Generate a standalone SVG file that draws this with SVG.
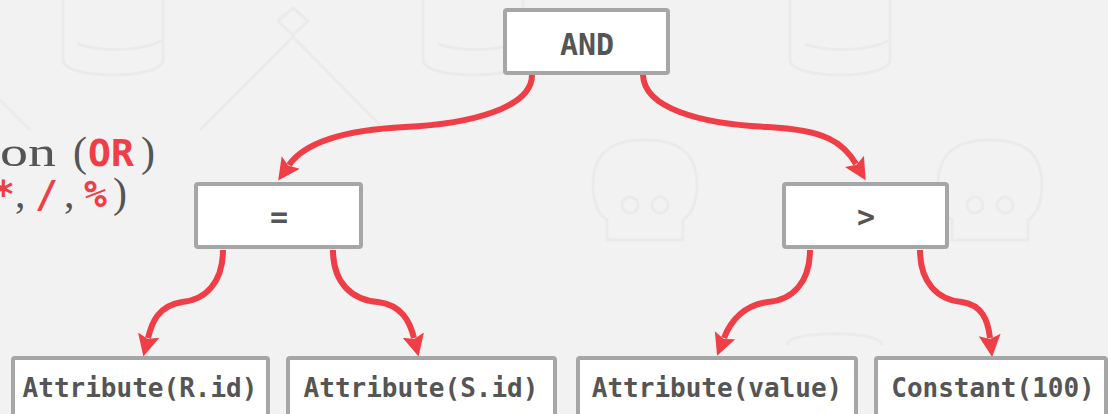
<svg xmlns="http://www.w3.org/2000/svg" width="1108" height="414" viewBox="0 0 1108 414">
  <defs>
    <style>
      .bg { fill: #f2f2f2; }
      .wm { fill: none; stroke: #ebebeb; stroke-width: 3; }
      .box { fill: #ffffff; stroke: #a6a6a6; stroke-width: 4; }
      .op { font-family: "DejaVu Sans Mono", "Liberation Mono", monospace; font-weight: bold; font-size: 30px; fill: #555555; text-anchor: middle; }
      .leaf { font-family: "DejaVu Sans Mono", "Liberation Mono", monospace; font-weight: bold; font-size: 26px; fill: #555555; text-anchor: middle; }
      .edge { fill: none; stroke: #ef3e45; stroke-width: 6; marker-end: url(#arrow); }
      .serif { font-family: "Liberation Serif", "DejaVu Serif", serif; font-size: 42px; fill: #555555; }
      .kw { font-family: "DejaVu Sans Mono", "Liberation Mono", monospace; font-weight: bold; font-size: 38px; fill: #ef3e45; }
    </style>
    <marker id="arrow" markerUnits="userSpaceOnUse" markerWidth="24" markerHeight="24" refX="3" refY="11" orient="auto">
      <path d="M0,0 L22,11 L0,22 L4,11 z" fill="#ef3e45"/>
    </marker>
  </defs>

  <rect class="bg" x="0" y="0" width="1108" height="414"/>

  <!-- faint background watermark -->
  <g id="watermark" class="wm">
    <path d="M63,0 V60 C63,80 163,80 163,60 V0"/>
    <path d="M78,44 C100,52 140,52 163,40"/>
    <path d="M423,0 V60 C423,80 523,80 523,60 V0"/>
    <path d="M438,44 C460,52 500,52 523,40"/>
    <path d="M0,100 L30,130"/>
    <path d="M200,130 L293,37 L380,125"/>
    <path d="M293,8 L308,21 L293,35 L278,21 z"/>
    <path d="M790,0 V60 C790,80 890,80 890,60 V0"/>
    <path d="M805,44 C827,52 867,52 890,40"/>
    <path d="M593,185 C593,150 615,140 645,140 C675,140 697,150 697,185 C697,205 690,215 683,220 V240 H607 V220 C600,215 593,205 593,185 z"/>
    <circle cx="630" cy="205" r="8"/>
    <circle cx="660" cy="205" r="8"/>
    <path d="M938,185 C938,150 960,140 990,140 C1020,140 1042,150 1042,185 C1042,205 1035,215 1028,220 V240 H952 V220 C945,215 938,205 938,185 z"/>
    <circle cx="975" cy="205" r="8"/>
    <circle cx="1005" cy="205" r="8"/>
    <path d="M787,345 C787,330 882,330 882,345"/>
  </g>

  <!-- partially visible slide text on the left -->
  <g id="bg-text">
    <text class="serif" x="0" y="166" textLength="56" lengthAdjust="spacingAndGlyphs">on</text>
    <text class="serif" x="73" y="166">(</text>
    <text class="kw" x="88" y="166">OR</text>
    <text class="serif" x="141" y="166">)</text>
    <text class="kw" x="-8" y="207">*</text>
    <text class="serif" x="15" y="207">,</text>
    <text class="kw" x="35" y="207">/</text>
    <text class="serif" x="64" y="207">,</text>
    <text class="kw" x="84" y="207">%</text>
    <text class="serif" x="113" y="207">)</text>
  </g>

  <!-- connectors -->
  <g id="connectors">
    <path class="edge" d="M532,75 C532,108 470,124 405,127 C345,130 305,142 289,165"/>
    <path class="edge" d="M643,75 C644,108 700,124 768,127 C825,130 843,142 856,164"/>
    <path class="edge" d="M223,250 C223,283 205,300 182,302 C158,306 152,322 148,338"/>
    <path class="edge" d="M333,250 C333,283 352,300 378,302 C402,305 410,322 414,338"/>
    <path class="edge" d="M810,250 C810,283 792,300 768,302 C745,305 731,320 724,338"/>
    <path class="edge" d="M920,250 C920,283 938,300 962,302 C982,305 988,320 990,338"/>
  </g>

  <!-- nodes -->
  <g id="node-and">
    <rect class="box" x="505" y="10" width="163" height="63" rx="2"/>
    <text class="op" x="587" y="55">AND</text>
  </g>
  <g id="node-eq">
    <rect class="box" x="196" y="184" width="165" height="63" rx="2"/>
    <text class="op" x="279" y="227">=</text>
  </g>
  <g id="node-gt">
    <rect class="box" x="784" y="184" width="163" height="63" rx="2"/>
    <text class="op" x="866" y="227">&gt;</text>
  </g>
  <g id="leaf-rid">
    <rect class="box" x="13" y="358" width="255" height="64" rx="2"/>
    <text class="leaf" x="140" y="397">Attribute(R.id)</text>
  </g>
  <g id="leaf-sid">
    <rect class="box" x="288" y="358" width="267" height="64" rx="2"/>
    <text class="leaf" x="421" y="397">Attribute(S.id)</text>
  </g>
  <g id="leaf-value">
    <rect class="box" x="578" y="358" width="278" height="64" rx="2"/>
    <text class="leaf" x="717" y="397">Attribute(value)</text>
  </g>
  <g id="leaf-const">
    <rect class="box" x="876" y="358" width="230" height="64" rx="2"/>
    <text class="leaf" x="993" y="397">Constant(100)</text>
  </g>
</svg>
